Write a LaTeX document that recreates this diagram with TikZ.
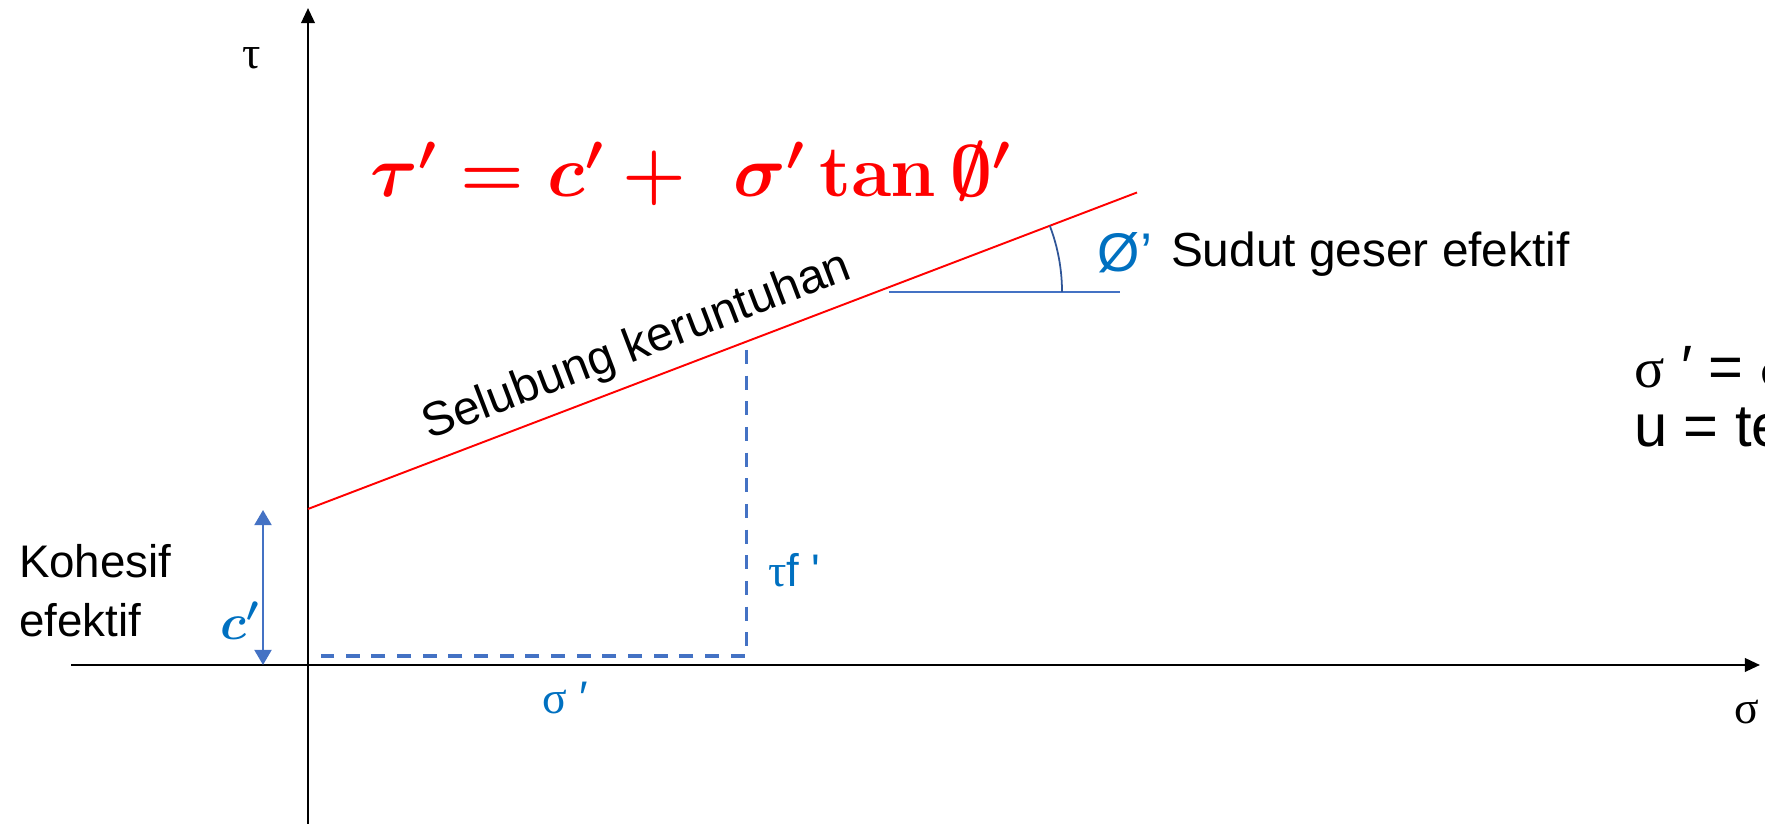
\documentclass[tikz,border=0pt]{standalone}
\usepackage{amsmath}
\usepackage[no-math]{fontspec}
\setmainfont{Liberation Sans}
\newfontfamily\serifgreek{Liberation Serif}
\usetikzlibrary{arrows.meta}
\definecolor{txtblue}{HTML}{0070C0}
\definecolor{lineblue}{HTML}{4472C4}
\definecolor{arcblue}{HTML}{2F5597}
\newcommand{\eqnfont}{\fontsize{19.8}{23}\selectfont\boldmath}
\newcommand{\sidefont}{\fontsize{17}{20}\selectfont}
\begin{document}
\begin{tikzpicture}[line width=0.6pt, font=\fontsize{13}{16}\selectfont,
    lbl/.style={inner sep=0pt},
    axistip/.style={-{Triangle[length=4.3pt,width=3.8pt]}},
    ctip/.style={{Triangle[length=4.3pt,width=4.8pt]}-{Triangle[length=4.3pt,width=4.8pt]}}]
  \useasboundingbox (0,0) rectangle (17.65,8.24);
  % axes
  \draw[line width=0.75pt, axistip] (0.710,1.590) -- (17.600,1.590);
  \draw[line width=0.75pt, axistip] (3.080,0.000) -- (3.080,8.160);
  % failure envelope
  \draw[red, line width=0.55pt] (3.080,3.150) -- (11.370,6.315);
  \draw[lineblue, line width=0.6pt] (8.890,5.320) -- (11.200,5.320);
  \draw[arcblue, line width=0.5pt] (10.620,5.320) arc (0:20.9:1.856);
  % point on the envelope
  \draw[lineblue, line width=1pt, dash pattern=on 4pt off 3.3pt] (7.465,4.740) -- (7.465,1.680) -- (3.210,1.680);
  \draw[lineblue, line width=0.75pt, ctip] (2.630,1.590) -- (2.630,3.140);
  % labels
  \node[lbl, anchor=base, rotate=20.9, font=\fontsize{13.6}{16}\selectfont] (envlabel) at (6.415,4.651) {Selubung keruntuhan};
  \node[lbl, anchor=base, text=red, font=\eqnfont] (eqn) at (6.910,6.270) {$\tau' = c' + \mskip6mu \sigma' \tan \emptyset'$};
  \node[lbl, text=txtblue, font=\fontsize{15.5}{18}\selectfont] (phi) at (11.250,5.710) {Ø’};
  \node[lbl, anchor=base west, font=\fontsize{13.6}{16}\selectfont] (sudut) at (11.700,5.570) {Sudut geser efektif};
  \node[lbl, anchor=west, align=left, font=\fontsize{13}{16.8}\selectfont] (kohesif) at (0.180,2.335) {Kohesif\\efektif};
  \node[lbl, text=txtblue, font=\fontsize{14}{17}\selectfont] (cprime) at (2.400,2.030) {$\boldsymbol{c'}$};
  \node[lbl, anchor=west, text=txtblue] (tauf) at (7.670,2.540) {{\serifgreek τ}f \textquotesingle};
  \node[lbl, text=txtblue] (sigp) at (5.650,1.260) {{\serifgreek σ} ′};
  \node[lbl] (tau) at (2.520,7.660) {\serifgreek τ};
  \node[lbl, anchor=west] (sigma) at (17.330,1.120) {\serifgreek σ};
  \node[lbl, anchor=base west, font=\sidefont] (eff1) at (16.330,4.360) {{\serifgreek\fontsize{16}{18}\selectfont σ} ′ = {\serifgreek\fontsize{16}{18}\selectfont σ}};
  \node[lbl, anchor=base west, font=\sidefont] (eff2) at (16.330,3.770) {u = te};
\end{tikzpicture}
\end{document}
